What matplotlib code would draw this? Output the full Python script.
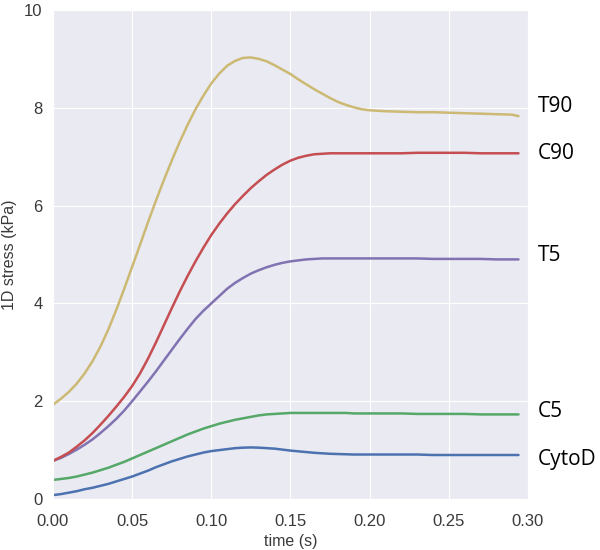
import matplotlib
matplotlib.use("Agg")
import matplotlib.pyplot as plt
import matplotlib.transforms as mtransforms
import seaborn as sns

# temps (s)
t = [0.000, 0.005, 0.010, 0.015, 0.020, 0.025, 0.030, 0.035, 0.040, 0.045,
     0.050, 0.055, 0.060, 0.065, 0.070, 0.075, 0.080, 0.085, 0.090, 0.095,
     0.100, 0.105, 0.110, 0.115, 0.120, 0.125, 0.130, 0.135, 0.140, 0.145,
     0.150, 0.155, 0.160, 0.165, 0.170, 0.175, 0.180, 0.185, 0.190, 0.195,
     0.200,
     0.210, 0.220, 0.230, 0.240, 0.250, 0.260, 0.270, 0.280, 0.290,
     0.294]

# stress 1D (kPa) pour chaque condition
cytod = [0.08, 0.10, 0.13, 0.16, 0.20, 0.23, 0.27, 0.31, 0.36, 0.41,
         0.46, 0.52, 0.58, 0.65, 0.71, 0.77, 0.82, 0.87, 0.91, 0.95,
         0.98, 1.00, 1.02, 1.04, 1.05, 1.055, 1.05, 1.04, 1.03, 1.01,
         0.99, 0.975, 0.96, 0.945, 0.935, 0.925, 0.92, 0.915, 0.91, 0.91,
         0.91,
         0.91, 0.91, 0.91, 0.90, 0.90, 0.90, 0.90, 0.90, 0.90,
         0.90]
c5 = [0.39, 0.41, 0.43, 0.46, 0.50, 0.54, 0.59, 0.64, 0.70, 0.76,
      0.83, 0.90, 0.97, 1.04, 1.11, 1.18, 1.25, 1.32, 1.38, 1.44,
      1.49, 1.54, 1.58, 1.62, 1.65, 1.68, 1.71, 1.73, 1.74, 1.75,
      1.76, 1.76, 1.76, 1.76, 1.76, 1.76, 1.76, 1.76, 1.75, 1.75,
      1.75,
      1.75, 1.75, 1.74, 1.74, 1.74, 1.74, 1.73, 1.73, 1.73,
      1.73]
t5 = [0.78, 0.84, 0.92, 1.01, 1.11, 1.22, 1.35, 1.49, 1.64, 1.81,
      2.00, 2.20, 2.40, 2.61, 2.83, 3.05, 3.27, 3.48, 3.68, 3.85,
      4.00, 4.15, 4.30, 4.42, 4.52, 4.61, 4.68, 4.74, 4.79, 4.83,
      4.86, 4.88, 4.90, 4.91, 4.92, 4.92, 4.92, 4.92, 4.92, 4.92,
      4.92,
      4.92, 4.92, 4.92, 4.91, 4.91, 4.91, 4.91, 4.90, 4.90,
      4.90]
c90 = [0.78, 0.86, 0.95, 1.07, 1.20, 1.35, 1.52, 1.70, 1.89, 2.09,
       2.31, 2.57, 2.87, 3.20, 3.55, 3.90, 4.24, 4.56, 4.86, 5.14,
       5.40, 5.63, 5.84, 6.03, 6.20, 6.36, 6.50, 6.63, 6.74, 6.84,
       6.92, 6.98, 7.02, 7.05, 7.06, 7.07, 7.07, 7.07, 7.07, 7.07,
       7.07,
       7.07, 7.07, 7.08, 7.08, 7.08, 7.08, 7.07, 7.07, 7.07,
       7.07]
t90 = [1.93, 2.05, 2.19, 2.36, 2.57, 2.82, 3.12, 3.47, 3.87, 4.30,
       4.75, 5.20, 5.66, 6.10, 6.52, 6.92, 7.30, 7.65, 7.97, 8.25,
       8.50, 8.70, 8.86, 8.96, 9.02, 9.03, 9.00, 8.95, 8.87, 8.78,
       8.69, 8.58, 8.48, 8.38, 8.29, 8.20, 8.12, 8.06, 8.01, 7.97,
       7.95,
       7.93, 7.92, 7.91, 7.91, 7.90, 7.89, 7.88, 7.87, 7.86,
       7.83]

noms = ["CytoD", "C5", "T5", "C90", "T90"]
series = [cytod, c5, t5, c90, t90]

sns.set_style("darkgrid")
plt.rcParams['font.family'] = ['Liberation Sans', 'DejaVu Sans']

couleurs = ["#4C72B0", "#55A868", "#8172B2", "#C44E52", "#CCB974"]
label_y = [0.80, 1.78, 4.98, 7.06, 8.02]  # position verticale des etiquettes

fig = plt.figure(figsize=(6, 5.5), dpi=100)
ax = fig.add_axes([0.0883, 0.0927, 0.7917, 0.8891])

trans = mtransforms.blended_transform_factory(ax.transAxes, ax.transData)
for nom, y, c, ly in zip(noms, series, couleurs, label_y):
    ax.plot(t, y, color=c, linewidth=1.8)
    ax.text(1.02, ly, nom, transform=trans, va="center", ha="left",
            fontsize=15, family=["Open Sans", "DejaVu Sans"], color="black")

ax.set_xlim(0, 0.30)
ax.set_ylim(0, 10)
ax.set_xticks([0.0, 0.05, 0.10, 0.15, 0.20, 0.25, 0.30])
ax.set_xticklabels(["0.00", "0.05", "0.10", "0.15", "0.20", "0.25", "0.30"])
ax.set_yticks([0, 2, 4, 6, 8, 10])
ax.tick_params(axis="x", labelsize=12, colors="#3a3a3a", pad=7)
ax.tick_params(axis="y", labelsize=12, colors="#3a3a3a", pad=4)
ax.set_xlabel("time (s)", fontsize=11.5, color="#3a3a3a", labelpad=4)
ax.set_ylabel("1D stress (kPa)", fontsize=11.5, color="#3a3a3a", va="center")
ax.yaxis.set_label_coords(-0.091, 0.5)

fig.savefig("out.png", dpi=100)
